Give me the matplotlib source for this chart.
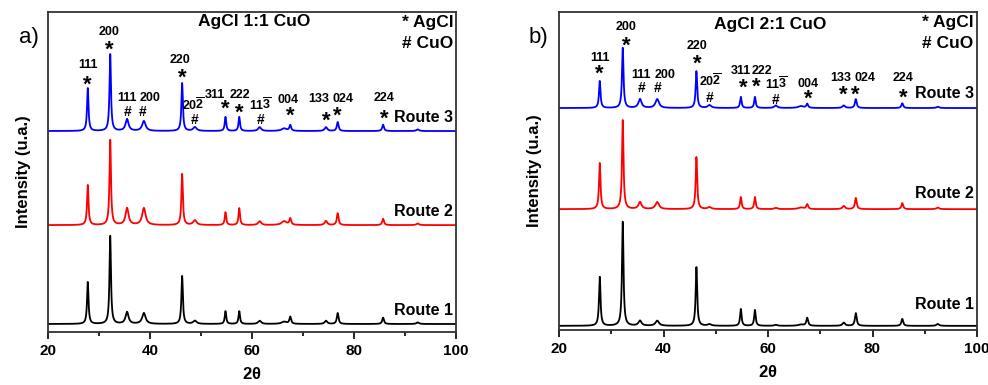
import numpy as np
import matplotlib.pyplot as plt

plt.rcParams['font.family'] = ['Liberation Sans', 'DejaVu Sans']
plt.rcParams['mathtext.fontset'] = 'custom'
plt.rcParams['mathtext.rm'] = 'Liberation Sans'
plt.rcParams['mathtext.bf'] = 'Liberation Sans:bold'

# posiciones de los picos (2theta) y anchuras (semi-anchura)
picos = [27.8, 32.2, 35.5, 38.8, 46.3, 48.8, 54.8, 57.5, 61.5, 66.3, 67.5, 74.5, 76.8, 85.7, 92.5]
anchos = [0.17, 0.17, 0.35, 0.4, 0.17, 0.4, 0.17, 0.17, 0.35, 0.6, 0.2, 0.3, 0.2, 0.2, 0.3]

# panel a) AgCl 1:1 CuO : linea base y alturas de cada pico
base_a = [2.5, 33.4, 62.8]
alturas_a1 = [13.1, 27.5, 3.7, 3.4, 15.0, 1.0, 4.0, 4.0, 1.0, 0.7, 2.2, 1.0, 3.4, 2.0, 0.5]
alturas_a2 = [12.5, 26.6, 5.3, 5.3, 16.0, 1.5, 4.0, 5.3, 1.2, 1.2, 2.0, 1.3, 3.7, 2.0, 0.5]
alturas_a3 = [13.4, 24.0, 3.7, 3.1, 15.0, 1.2, 4.4, 4.4, 1.2, 0.8, 1.8, 1.2, 2.8, 2.0, 0.5]

# panel b) AgCl 2:1 CuO
base_b = [1.3, 38.0, 69.8]
alturas_b1 = [15.4, 32.7, 1.6, 1.6, 18.5, 0.5, 5.3, 5.0, 0.3, 0.4, 2.5, 1.0, 4.0, 2.2, 0.6]
alturas_b2 = [14.5, 28.0, 2.2, 2.2, 16.4, 0.6, 3.8, 3.8, 0.4, 0.5, 1.5, 1.0, 3.5, 1.9, 0.5]
alturas_b3 = [8.5, 18.9, 2.8, 2.8, 11.6, 0.9, 3.5, 3.5, 0.8, 0.6, 1.3, 0.8, 2.8, 1.5, 0.4]

colores = ['black', 'red', 'blue']
rutas = ['Route 1', 'Route 2', 'Route 3']

x = np.linspace(20, 100, 4000)

def patron(base, alturas):
    # suma de lorentzianas sobre la linea base
    y = np.full_like(x, base)
    for p, w, h in zip(picos, anchos, alturas):
        y += h / (1 + ((x - p) / w)**2)
    return y

# etiquetas: (x, texto, y, simbolo, x_simbolo, y_simbolo)
etiq_a = [(27.8, '111', 83.3, '*', 27.8, 78.5),
          (32.0, '200', 93.9, '*', 32.0, 89.5),
          (35.5, '111', 73.0, '#', 35.6, 68.6),
          (40.0, '200', 73.0, '#', 38.6, 68.6),
          (45.9, '220', 84.9, '*', 46.3, 80.8),
          (48.6, r'$\mathbf{20\overline{2}}$', 70.8, '#', 48.8, 66.1),
          (52.8, '311', 74.0, '*', 54.7, 71.0),
          (57.7, '222', 74.0, '*', 57.5, 69.8),
          (61.6, r'$\mathbf{11\overline{3}}$', 70.8, '#', 61.6, 66.4),
          (67.1, '004', 72.4, '*', 67.6, 69.0),
          (73.1, '133', 72.7, '*', 74.5, 67.5),
          (77.8, '024', 72.7, '*', 76.7, 69.0),
          (85.9, '224', 73.0, '*', 85.9, 68.1)]
etiq_b = [(27.8, '111', 85.4, '*', 27.8, 81.8),
          (32.8, '200', 95.2, '*', 32.8, 90.8),
          (35.7, '111', 80.1, '#', 35.9, 76.2),
          (40.3, '200', 80.1, '#', 38.8, 76.2),
          (46.4, '220', 89.2, '*', 46.4, 85.0),
          (48.9, r'$\mathbf{20\overline{2}}$', 78.3, '#', 48.9, 73.1),
          (54.9, '311', 81.3, '*', 55.2, 77.6),
          (58.8, '222', 81.3, '*', 57.7, 77.9),
          (61.6, r'$\mathbf{11\overline{3}}$', 77.3, '#', 61.5, 72.4),
          (67.7, '004', 77.5, '*', 67.7, 74.1),
          (74.0, '133', 79.1, '*', 74.5, 75.4),
          (78.6, '024', 79.1, '*', 76.8, 75.4),
          (85.8, '224', 79.4, '*', 85.8, 74.4)]

fig = plt.figure(figsize=(9.88, 3.85), dpi=100)
ax_a = fig.add_axes([48/988, 1 - 332/385, 408/988, 320/385])
ax_b = fig.add_axes([559/988, 1 - 330/385, 418/988, 318/385])

paneles = [(ax_a, base_a, [alturas_a1, alturas_a2, alturas_a3], etiq_a, 'AgCl 1:1 CuO', 'a)',
            [6.6, 37.8, 66.9], 96.9),
           (ax_b, base_b, [alturas_b1, alturas_b2, alturas_b3], etiq_b, 'AgCl 2:1 CuO', 'b)',
            [7.9, 42.8, 74.5], 96.0)]

for ax, base, alturas, etiq, titulo, letra, y_rutas, y_tit in paneles:
    for b, h, c, r, yr in zip(base, alturas, colores, rutas, y_rutas):
        ax.plot(x, patron(b, h), color=c, lw=1.3)
        ax.text(99.4, yr, r, ha='right', va='center', fontsize=11.5, fontweight='bold')
    for xt, txt, yt, sim, xs, ys in etiq:
        ax.text(xt, yt, txt, ha='center', va='center', fontsize=9, fontweight='bold')
        if sim == '*':
            ax.text(xs, ys - 1.5, sim, ha='center', va='center', fontsize=16, fontweight='bold')
        else:
            ax.text(xs, ys, sim, ha='center', va='center', fontsize=10, fontweight='bold')
    ax.text(60.4, y_tit, titulo, ha='center', va='center', fontsize=12.5, fontweight='bold')
    ax.text(89.4, 96.6, '* AgCl', ha='left', va='center', fontsize=12.5, fontweight='bold')
    ax.text(89.4, 90.1, '# CuO', ha='left', va='center', fontsize=12.5, fontweight='bold')
    ax.set_xlim(20, 100)
    ax.set_ylim(0, 100)
    ax.set_xticks([20, 40, 60, 80, 100])
    ax.set_xticks([30, 50, 70, 90], minor=True)
    ax.set_yticks([])
    ax.tick_params(axis='x', direction='out', length=5, width=1.2, labelsize=11)
    ax.tick_params(axis='x', which='minor', direction='out', length=3, width=1.2)
    for lab in ax.get_xticklabels():
        lab.set_fontweight('bold')
    for s in ax.spines.values():
        s.set_linewidth(1.3)
        s.set_color('#333333')
    ax.set_xlabel(r'2$\mathbf{\theta}$', fontsize=12, fontweight='bold', labelpad=6)
    ax.set_ylabel('Intensity (u.a.)', fontsize=12, fontweight='bold', labelpad=12)

fig.text(29/988, 1 - 37/385, 'a)', ha='center', va='center', fontsize=16)
fig.text(538/988, 1 - 37/385, 'b)', ha='center', va='center', fontsize=16)

plt.savefig('out.png', dpi=100)
